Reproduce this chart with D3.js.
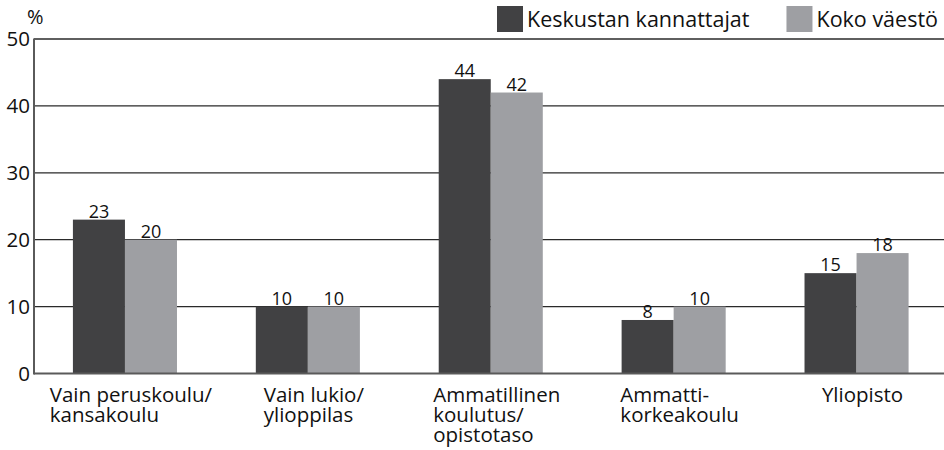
<!DOCTYPE html>
<html>
<head>
<meta charset="utf-8">
<script src="https://cdn.jsdelivr.net/npm/d3@7"></script>
<style>
  body { margin: 0; background: #fff; }
  svg { display: block; font-family: "Open Sans", "Noto Sans", sans-serif; }
</style>
</head>
<body>
<svg id="chart" width="944" height="450"></svg>
<script>
// categories (line breaks kept as in the picture)
const categories = [
  ["Vain peruskoulu/", "kansakoulu"],
  ["Vain lukio/", "ylioppilas"],
  ["Ammatillinen", "koulutus/", "opistotaso"],
  ["Ammatti-", "korkeakoulu"],
  ["Yliopisto"]
];
const seriesNames = ["Keskustan kannattajat", "Koko väestö"];
const keskusta = [23, 10, 44, 8, 15];
const kokoVaesto = [20, 10, 42, 10, 18];
const yTicks = [0, 10, 20, 30, 40, 50];
const colors = ["#414143", "#9e9fa3"];

const svg = d3.select("#chart");
const W = 944, plotLeft = 34, plotTop = 39, plotBottom = 373.5;

const x0 = d3.scaleBand()
  .domain(d3.range(categories.length))
  .range([plotLeft - 0.5, 948])
  .paddingInner(0.431)
  .paddingOuter(0.2155);

const x1 = d3.scaleBand()
  .domain(d3.range(seriesNames.length))
  .range([0, x0.bandwidth()]);

const y = d3.scaleLinear().domain([0, 50]).range([plotBottom, plotTop]);

// gridlines
svg.append("g")
  .selectAll("line")
  .data(yTicks.filter(d => d > 0))
  .join("line")
  .attr("x1", plotLeft).attr("x2", W)
  .attr("y1", d => y(d)).attr("y2", d => y(d))
  .attr("stroke", "#2a2a2a")
  .attr("stroke-width", 1.3);

// y tick labels
svg.append("g")
  .selectAll("text")
  .data(yTicks)
  .join("text")
  .attr("x", 30)
  .attr("y", d => y(d) + 7)
  .attr("text-anchor", "end")
  .attr("font-size", 20.5)
  .attr("fill", "#111")
  .text(d => d);

svg.append("text")
  .attr("x", 27).attr("y", 24)
  .attr("font-size", 20)
  .attr("fill", "#111")
  .text("%");

// bars
const series = [keskusta, kokoVaesto];
const groups = svg.append("g")
  .selectAll("g")
  .data(categories.map((c, i) => i))
  .join("g")
  .attr("transform", i => `translate(${x0(i)},0)`);

groups.selectAll("rect")
  .data(i => series.map((s, k) => ({ k, v: s[i] })))
  .join("rect")
  .attr("x", d => x1(d.k))
  .attr("width", x1.bandwidth())
  .attr("y", d => y(d.v))
  .attr("height", d => y(0) - y(d.v))
  .attr("fill", d => colors[d.k]);

groups.selectAll("text")
  .data(i => series.map((s, k) => ({ k, v: s[i] })))
  .join("text")
  .attr("x", d => x1(d.k) + x1.bandwidth() / 2)
  .attr("y", d => y(d.v) - 2)
  .attr("text-anchor", "middle")
  .attr("font-size", 18)
  .attr("fill", "#111")
  .text(d => d.v);

// axes lines
svg.append("line")
  .attr("x1", plotLeft).attr("x2", W)
  .attr("y1", plotBottom).attr("y2", plotBottom)
  .attr("stroke", "#5a5a5a").attr("stroke-width", 2);
svg.append("line")
  .attr("x1", plotLeft).attr("x2", plotLeft)
  .attr("y1", plotTop - 0.5).attr("y2", plotBottom + 1)
  .attr("stroke", "#5a5a5a").attr("stroke-width", 2);

// x labels: left aligned block, centred on group by widest line
const xl = svg.append("g");
categories.forEach((lines, i) => {
  const t = xl.append("text")
    .attr("font-size", 20.5)
    .attr("fill", "#111");
  lines.forEach((ln, j) => {
    t.append("tspan").attr("y", 402 + j * 20).text(ln);
  });
  const widest = d3.max(t.selectAll("tspan").nodes(), n => n.getComputedTextLength());
  const cx = x0(i) + x0.bandwidth() / 2;
  t.selectAll("tspan").attr("x", cx - widest / 2 + 6);
});

// legend
const leg = svg.append("g");
let lx = 497;
seriesNames.forEach((name, k) => {
  leg.append("rect")
    .attr("x", lx).attr("y", 6)
    .attr("width", 26).attr("height", 26)
    .attr("fill", colors[k]);
  const t = leg.append("text")
    .attr("x", lx + 30).attr("y", 26.5)
    .attr("font-size", 21.5)
    .attr("fill", "#111")
    .text(name);
  lx += 30 + t.node().getComputedTextLength() + 37;
});
</script>
</body>
</html>
